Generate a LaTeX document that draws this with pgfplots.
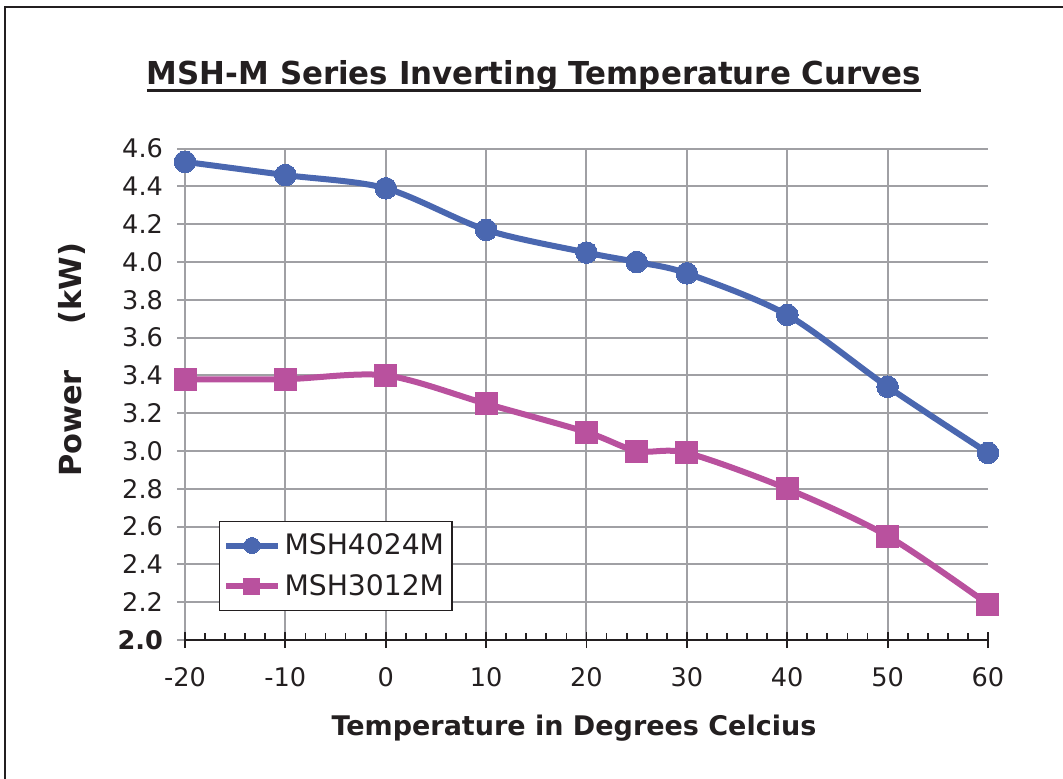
\documentclass[border=0pt]{standalone}
\usepackage{fontspec}
\setmainfont{DejaVu Sans}
\usepackage{graphicx}
\usepackage{pgfplots}
\pgfplotsset{compat=1.18}
\definecolor{cblue}{RGB}{74,103,176}
\definecolor{cmag}{RGB}{185,81,158}
\definecolor{cgrid}{RGB}{160,160,164}
\definecolor{ctext}{RGB}{35,31,32}
\begin{document}
\begin{tikzpicture}
\useasboundingbox (-92.5pt,-69pt) rectangle (439pt,320pt);
\begin{scope}
\clip (-92.5pt,-69pt) rectangle (439pt,320pt);
\draw[line width=1.2pt, ctext] (-90pt,316.5pt) rectangle (470pt,-100pt);
\end{scope}
% title
\node[anchor=base, inner sep=0pt, text=ctext] at (174.5pt,277.5pt)
  {\resizebox{387pt}{\height}{\bfseries\fontsize{15.8}{18}\selectfont MSH-M Series Inverting Temperature Curves}};
\draw[line width=1.5pt, ctext] (-19pt,274.5pt) -- (368pt,274.5pt);
\begin{axis}[
  at={(0,0)}, anchor=south west,
  scale only axis, width=401.5pt, height=245.7pt,
  xmin=-20, xmax=60, ymin=2, ymax=4.6,
  clip=false,
  axis x line*=bottom, axis y line*=left,
  x axis line style={draw=none},
  y axis line style={cgrid, line width=1pt, -},
  xtick={-20,-10,0,10,20,30,40,50},
  xticklabels={},
  x tick style={draw=none},
  xmajorgrids, ymajorgrids,
  major grid style={cgrid, line width=1pt},
  ytick={2,2.2,2.4,2.6,2.8,3,3.2,3.4,3.6,3.8,4,4.2,4.4,4.6},
  yticklabels={\textbf{2.0},2.2,2.4,2.6,2.8,3.0,3.2,3.4,3.6,3.8,4.0,4.2,4.4,4.6},
  tick align=outside, major tick length=4pt,
  y tick style={cgrid, line width=1pt},
  yticklabel style={font=\fontsize{12.8}{14}\selectfont, text=ctext, xshift=-3.5pt},
  ylabel={Power\hspace{1.5em}(kW)},
  ylabel style={at={(axis description cs:-0.141,0.57)}, anchor=center, font=\bfseries\fontsize{15.2}{18}\selectfont, text=ctext},
  legend style={at={(0.042,0.059)}, anchor=south west, draw=ctext, line width=0.6pt,
     font=\fontsize{14.1}{16}\selectfont, text=ctext, row sep=4.5pt, inner ysep=4pt, inner xsep=2pt},
  legend cell align=left,
  legend image code/.code={\draw[mark repeat=2, mark phase=2, #1, mark size=4pt] plot coordinates {(0cm,0cm) (0.45cm,0cm) (0.9cm,0cm)};},
]
\addplot[cblue, line width=3pt, smooth, tension=0.5, mark=*, mark size=5.4pt, mark options={solid, fill=cblue, draw=cblue, line width=0pt}]
  coordinates {(-20,4.53) (-10,4.46) (0,4.39) (10,4.17) (20,4.05) (25,4.00) (30,3.94) (40,3.72) (50,3.34) (60,2.99)};
\addlegendentry{MSH4024M}
\addplot[cmag, line width=3pt, smooth, tension=0.5, mark=square*, mark size=5.5pt, mark options={solid, fill=cmag, draw=cmag, line width=0pt}]
  coordinates {(-20,3.38) (-10,3.38) (0,3.40) (10,3.25) (20,3.10) (25,3.00) (30,2.99) (40,2.80) (50,2.55) (60,2.19)};
\addlegendentry{MSH3012M}
\end{axis}
\begin{axis}[
  at={(0,0)}, anchor=south west,
  scale only axis, width=401.5pt, height=245.7pt,
  xmin=-20, xmax=60, ymin=2, ymax=4.6,
  axis y line=none, axis x line*=bottom,
  x axis line style={ctext, line width=0.9pt, -},
  ytick=\empty,
  xtick={-20,-10,0,10,20,30,40,50,60},
  xticklabels={-20,-10,0,10,20,30,40,50,60},
  minor x tick num=4,
  tick align=center, major tick length=8pt, minor tick length=3.5pt,
  x tick style={ctext, line width=0.9pt},
  minor tick style={yshift=1.75pt},
  xticklabel style={font=\fontsize{12.8}{14}\selectfont, text=ctext, yshift=-6pt},
  xlabel={Temperature in Degrees Celcius},
  xlabel style={at={(axis description cs:0.4844,0)}, anchor=base, yshift=-47.5pt, font=\bfseries\fontsize{13.5}{16}\selectfont, text=ctext},
]
\end{axis}
\end{tikzpicture}
\end{document}
